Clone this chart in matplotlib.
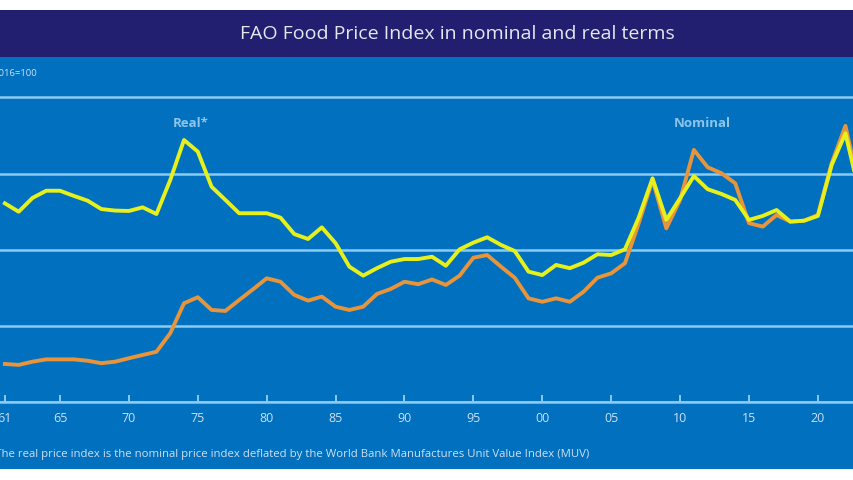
import numpy as np
import matplotlib.pyplot as plt
from matplotlib.patches import Rectangle

# FAO Food Price Index, 2014-2016 = 100
years = np.arange(1961, 2024)

nominal = [20.2, 19.7, 21.4, 22.6, 22.6, 22.6, 21.9, 20.6, 21.4, 23.2,
           24.9, 26.6, 36.3, 52.0, 55.2, 48.5, 48.0, 53.7, 59.3, 65.1,
           63.3, 56.4, 53.4, 55.5, 50.2, 48.5, 50.2, 56.9, 59.5, 63.3,
           62.0, 64.5, 61.6, 66.5, 75.9, 77.3, 71.2, 65.4, 54.6, 52.8,
           54.6, 52.8, 58.1, 65.4, 67.7, 73.0, 94.0, 116.6, 91.3, 106.2,
           132.4, 123.3, 120.2, 114.9, 94.0, 92.2, 98.3, 94.8, 95.3, 98.3,
           125.4, 145.0, 112.0]

real = [104.4, 100.0, 107.2, 111.0, 111.0, 108.3, 105.8, 101.4, 100.6, 100.4,
        102.3, 98.8, 116.6, 137.6, 131.5, 113.1, 106.2, 99.2, 99.2, 99.2,
        96.9, 88.3, 85.7, 91.8, 83.5, 71.2, 66.5, 70.4, 73.8, 75.2,
        75.2, 76.4, 71.7, 80.3, 83.8, 86.6, 82.6, 79.4, 68.6, 66.8,
        72.1, 70.4, 73.3, 77.7, 77.3, 80.3, 97.0, 117.5, 95.7, 107.1,
        118.7, 111.8, 109.3, 106.2, 95.7, 97.8, 100.9, 94.8, 95.3, 97.8,
        124.5, 141.1, 110.0]

tickYears = [1961, 1965, 1970, 1975, 1980, 1985, 1990, 1995, 2000, 2005, 2010, 2015, 2020]
tickLabels = ['61', '65', '70', '75', '80', '85', '90', '95', '00', '05', '10', '15', '20']
gridValues = [0, 40, 80, 120, 160]

navy = '#221f70'
blue = '#0070bf'
gridBlue = '#8ccaf2'
labelBlue = '#8fc4ea'
yellow = '#e8f01c'
orange = '#e8943a'

plt.rcParams['font.family'] = ['Open Sans', 'DejaVu Sans']

fig = plt.figure(figsize=(8.54, 4.8), dpi=100, facecolor='white')

# title band and plot background
fig.patches.append(Rectangle((0, 0.88125), 1, 0.0979, transform=fig.transFigure,
                             facecolor=navy, edgecolor='none', zorder=-2))
fig.patches.append(Rectangle((0, 0.0229), 1, 0.8584, transform=fig.transFigure,
                             facecolor=blue, edgecolor='none', zorder=-2))

fig.text(0.536, 0.929, 'FAO Food Price Index in nominal and real terms',
         color='#e6e6f0', fontsize=14, ha='center', va='center')

ax = fig.add_axes([0, 0.16146, 1, 0.71979])
ax.set_zorder(2)
ax.set_facecolor('none')
ax.set_xlim(1960.646, 2022.62)
ax.set_ylim(0, 181.1)

ax.plot(years, nominal, color=orange, lw=2.8, solid_joinstyle='round', zorder=3)
ax.plot(years, real, color=yellow, lw=2.8, solid_joinstyle='round', zorder=4)

ax.set_yticks(gridValues)
ax.yaxis.grid(True, color=gridBlue, lw=1.8)
ax.set_axisbelow(True)
ax.tick_params(axis='y', left=False, labelleft=False)

ax.set_xticks(tickYears)
ax.set_xticklabels(tickLabels)
ax.tick_params(axis='x', direction='in', length=5, width=1.4, color=gridBlue,
               labelcolor='#cfe0f2', labelsize=9, pad=7)

for side in ['top', 'left', 'right']:
    ax.spines[side].set_visible(False)
ax.spines['bottom'].set_color(gridBlue)
ax.spines['bottom'].set_linewidth(1.8)

ax.text(1974.5, 146.5, 'Real*', color=labelBlue, fontsize=9.5, fontweight='bold',
        ha='center', va='center')
ax.text(2011.6, 146.5, 'Nominal', color=labelBlue, fontsize=9.5, fontweight='bold',
        ha='center', va='center')

fig.text(37 / 854, 1 - 73 / 480, '2014-2016=100', color='#cfe0f2', fontsize=6.8,
         ha='right', va='center')
fig.text(589 / 854, 1 - 455 / 480,
         '*The real price index is the nominal price index deflated by the World Bank '
         'Manufactures Unit Value Index (MUV)',
         color='#cfe0f2', fontsize=8.2, ha='right', va='center')

fig.savefig('out.png', dpi=100, facecolor='white')
